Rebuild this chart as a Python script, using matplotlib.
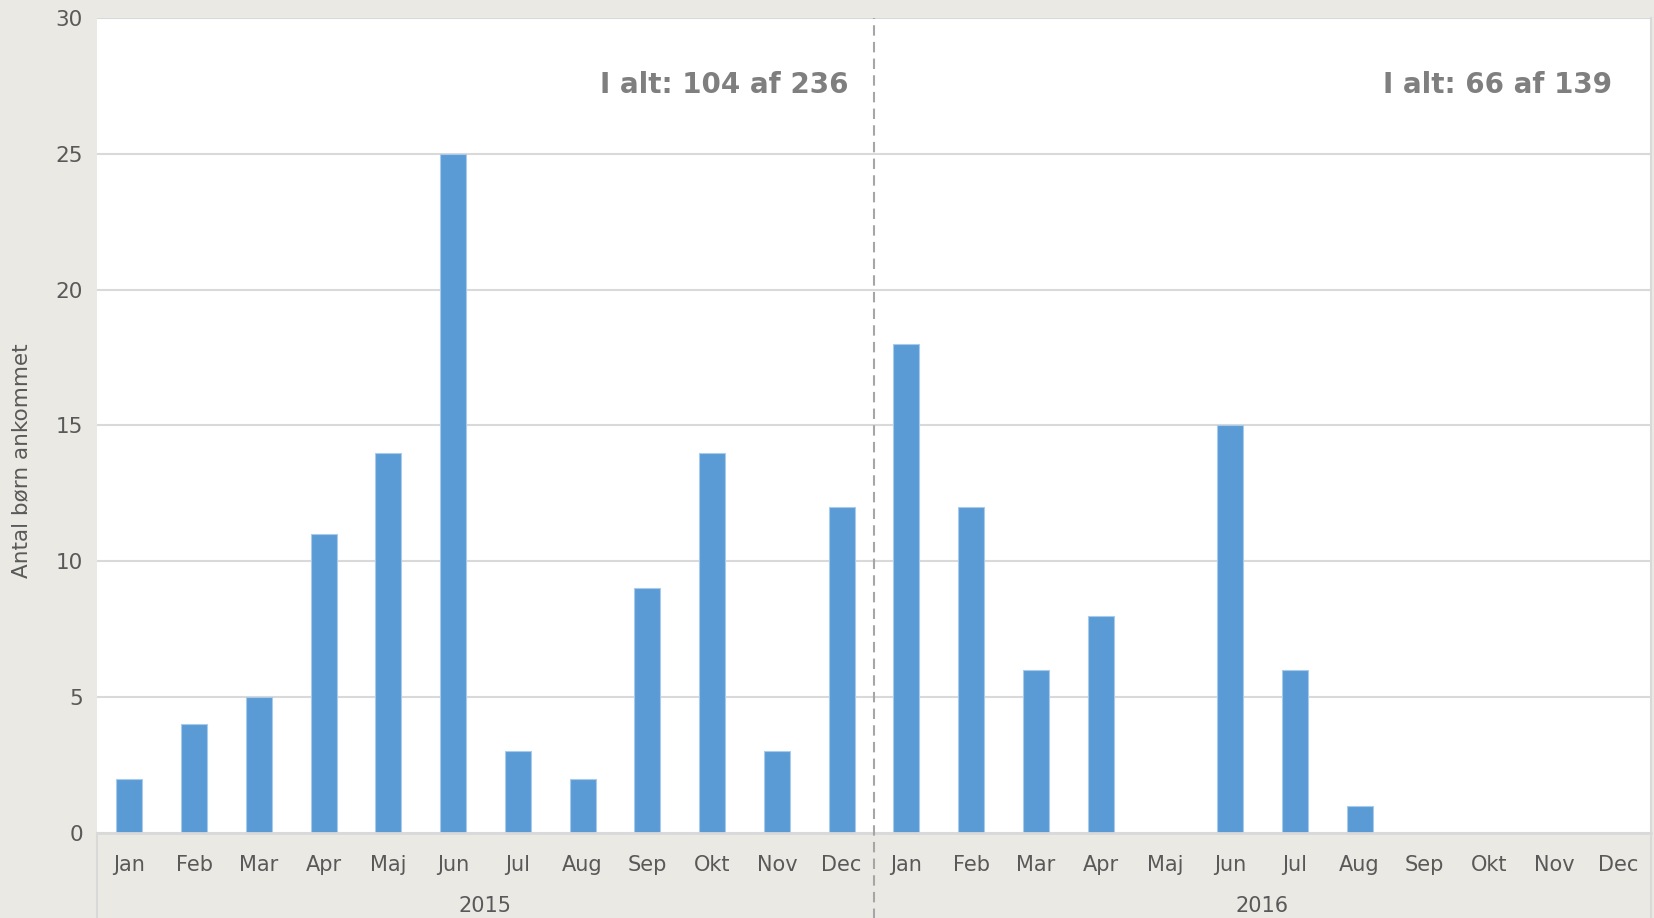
import matplotlib
matplotlib.use('Agg')
import matplotlib.pyplot as plt
import numpy as np

months = ['Jan', 'Feb', 'Mar', 'Apr', 'Maj', 'Jun', 'Jul', 'Aug', 'Sep', 'Okt', 'Nov', 'Dec']
years = ['2015', '2016']
counts_2015 = [2, 4, 5, 11, 14, 25, 3, 2, 9, 14, 3, 12]
counts_2016 = [18, 12, 6, 8, 0, 15, 6, 1, 0, 0, 0, 0]
totals = ['I alt: 104 af 236', 'I alt: 66 af 139']

bg = '#EBE9E4'
grid_col = '#D9D9D9'
txt = '#595959'
bar_col = '#5B9BD5'

plt.rcParams['font.family'] = ['DejaVu Sans']

fig = plt.figure(figsize=(16.54, 9.18), dpi=100)
fig.patch.set_facecolor(bg)
ax = fig.add_axes([0.0586, 0.0926, 0.9396, 0.8878])
ax.set_facecolor('white')

values = counts_2015 + counts_2016
x = np.arange(len(values))
ax.bar(x, values, width=0.4, color=bar_col, edgecolor='#A9CBEB', linewidth=0.8, zorder=2)

ax.set_xlim(-0.5, len(values) - 0.5)
ax.set_ylim(0, 30)
ax.set_yticks(range(0, 31, 5))
ax.yaxis.grid(True, color=grid_col, linewidth=1.5, zorder=0)
ax.set_axisbelow(True)
for s in ['left', 'right', 'top']:
    ax.spines[s].set_visible(False)
ax.spines['bottom'].set_color(grid_col)
ax.spines['bottom'].set_linewidth(2)
ax.spines['bottom'].set_zorder(3)

ax.set_xticks(x)
ax.set_xticklabels(months * 2)
ax.tick_params(axis='x', length=0, pad=16, labelsize=15, labelcolor=txt)
ax.tick_params(axis='y', length=0, pad=10, labelsize=15.5, labelcolor=txt)

ax.set_ylabel('Antal børn ankommet', fontsize=15.5, color=txt)
ax.yaxis.set_label_coords(-0.042, 0.457)

# year labels below the month labels
for i, yr in enumerate(years):
    ax.text(i * 12 + 5.5, -0.09, yr, transform=ax.get_xaxis_transform(),
            ha='center', va='center', fontsize=15, color=txt, clip_on=False)

# group separators
ax.axvline(-0.5, ymin=-0.12, ymax=0, color=grid_col, linewidth=1.5, clip_on=False)
ax.axvline(len(values) - 0.5, ymin=-0.12, ymax=1, color=grid_col, linewidth=1.5, clip_on=False)
ax.axvline(11.5, ymin=-0.12, ymax=1, color='#A6A6A6', linewidth=1.5,
           linestyle=(0, (5, 3)), clip_on=False, zorder=4)

# totals per year, right-aligned near the end of each year
for xr, t in zip([11.1, 22.9], totals):
    ax.text(xr, 27.55, t, ha='right', va='center', fontsize=20,
            fontweight='bold', color='#7F7F7F')

fig.savefig('out.png', dpi=100, facecolor=fig.get_facecolor())
